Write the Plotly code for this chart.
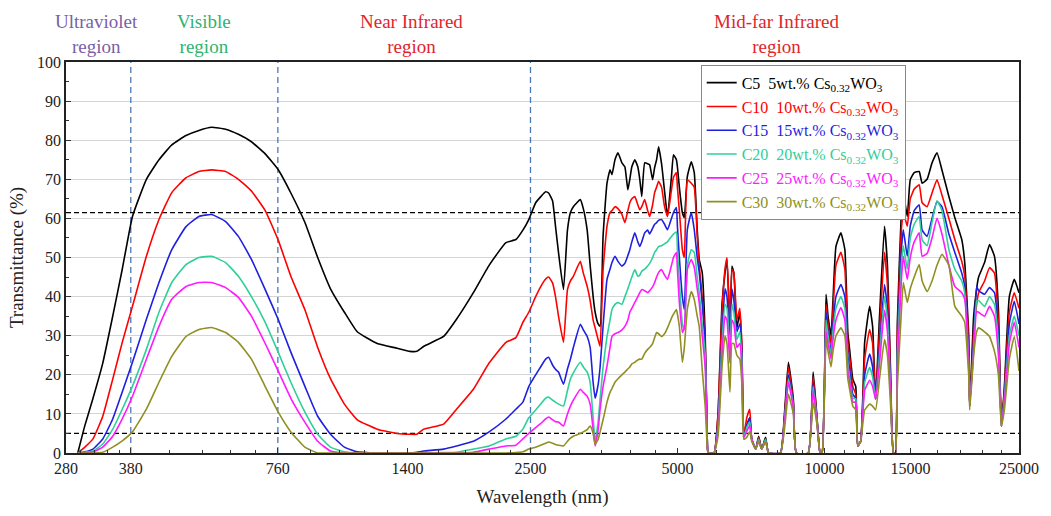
import numpy as np
import plotly.graph_objects as go

# Wavelength grid (nm) shared by every spectrum
wavelength_nm = [
    296, 306, 318, 333, 349, 365, 383, 409, 434, 461, 493, 524, 556, 594, 631, 671, 716, 761, 808, 863,
    917, 974, 1040, 1105, 1214, 1333, 1416, 1463, 1512, 1660, 1764, 1910, 2057, 2227, 2334, 2412, 2480, 2562,
    2622, 2685, 2723, 2774, 2813, 2853, 2921, 2976, 3018, 3060, 3162, 3207, 3266, 3312, 3359, 3391, 3439, 3471,
    3520, 3586, 3637, 3671, 3723, 3776, 3847, 3901, 3956, 3993, 4031, 4088, 4146, 4185, 4224, 4283, 4343, 4384,
    4446, 4488, 4530, 4573, 4637, 4703, 4769, 4859, 4905, 4973, 4997, 5043, 5115, 5163, 5236, 5334, 5410, 5486,
    5538, 5616, 5696, 5749, 5776,
    5940, 6052, 6166, 6253, 6312, 6401, 6461, 6521, 6613, 6706, 6769, 6833, 6929, 7027, 7093, 7227, 7329, 7433,
    7572, 7679, 8122, 8276, 8432, 8630, 8752, 9257, 9475, 9653, 9790, 9882, 10068, 10163, 10306, 10402, 10549,
    10798, 11002, 11157, 11262, 11421, 11582, 11691, 11856, 12079, 12364, 12539, 12716, 12955, 13261, 13448,
    13639, 13831, 13960, 14091, 14357, 14492, 14765, 14974, 15256, 15616, 15836, 16210, 16593, 16985, 17387,
    17964, 18475, 19089, 19358, 19723, 19816, 20190, 20474, 20666, 21254, 21757, 22270, 22689, 23010, 23335,
    23887, 24450, 25000,
]

# Transmittance (%) of each film
c5 = [
    0, 7, 14, 23, 35, 47, 60.5, 70, 75, 78.8, 81.2, 82.5, 83.3, 82.8, 81.5, 79.6, 76.5, 72.5, 66.5, 59,
    50, 42, 36, 31, 28, 26.8, 26, 26, 27.3, 29.8, 34.2, 41, 48, 53.8, 54.6, 57, 59.7, 64,
    65.5, 66.8, 66.5, 64.5, 58, 51.3, 41.8, 57, 61.5, 63, 64.8, 62.5, 57, 48, 40, 36, 33, 32.4,
    55.4, 69, 72.4, 71.2, 75, 76.8, 74.2, 73.2, 67.3, 70, 73.2, 75, 73.2, 70, 65.6, 74.2, 74, 73.7,
    69.9, 73, 75, 78.3, 74, 67, 60.5, 70.7, 76.3, 75, 73.2, 68, 61.5, 60.2, 70.7, 74.5, 71.7, 57.1,
    49.5, 46.2, 30, 5, 0,
    0, 10, 38, 46, 49.5, 32, 47.8, 46, 32, 36, 27, 4.3, 7, 9, 3.6, 1, 4.3, 1,
    4, 0, 0, 10, 23.2, 13.8, 0, 0, 20.7, 8.7, 0, 0, 40.6, 35, 30, 39, 52.8,
    56.3, 52, 30.8, 26, 18.9, 17, 1.8, 3, 28.3, 37.5, 32.4, 13.8, 35, 58, 47.8,
    22, 0, 0, 33.4, 61.5, 66.6, 60.5, 69.9, 71.7, 72, 69, 70, 74.2, 76.8, 72.4,
    65.6, 60.2, 54.6, 48.7, 30, 12, 35, 42, 45, 48.7, 53.3, 50.3, 36.7, 6.9, 17,
    40, 44.4, 41,
]
c10 = [
    0, 1.5, 3.6, 9.4, 18.9, 28.3, 37.5, 50.3, 59.7, 66.6, 70.4, 72, 72.4, 72, 70, 67, 62, 54.5, 45.2, 36.7,
    27, 19, 12.5, 8.5, 6.1, 5, 4.8, 4.8, 6.1, 7.4, 11.2, 16.3, 23, 28.3, 29.5, 33.4, 36, 40,
    42.5, 44.5, 45, 43.5, 40, 35, 28.3, 41.8, 44, 45.2, 49, 46, 42.6, 39, 34, 32, 29, 27.3,
    46.9, 58, 61.5, 62, 63, 62.5, 61, 58.9, 62, 64, 65, 65.6, 63.5, 62.2, 63, 64.8, 62, 60.5,
    63.5, 66.6, 68, 69.5, 68, 63, 60.5, 67.3, 70.5, 71.7, 68, 62, 52, 50, 69.9, 69, 68, 55.4,
    48, 40, 28, 5, 0,
    0, 10, 36, 47, 50, 33, 47, 46, 34, 37, 28, 4.3, 9, 11.2, 3.6, 1, 4, 1,
    3.5, 0, 0, 9, 22, 13, 0, 0, 19.5, 8.5, 0, 0, 38, 33, 28, 36, 48,
    51.3, 47, 28, 24, 17, 15, 1.8, 3, 24, 31.6, 28, 13.8, 31, 51.3, 43,
    20, 0, 0, 30, 57, 61.7, 58, 65, 67.5, 68.6, 64, 63, 66.5, 69.9, 66,
    60, 54.6, 49, 45.2, 28, 12, 31, 38, 41, 44, 47.4, 46, 33, 6.9, 16,
    36, 41, 37,
]
c15 = [
    0, 0.3, 1, 3.6, 8.7, 15.6, 23.2, 34.2, 43.6, 52, 57.9, 60.5, 61, 59.2, 55.4, 49.5, 41.8, 34.2, 25.8, 17.1,
    9.4, 4.8, 1.5, 0.3, 0, 0, 0, 0.2, 0.5, 1, 1.8, 3, 5.4, 8.7, 11.2, 13, 17, 20,
    22, 24, 24.5, 22.5, 21.4, 20.7, 17.6, 21.5, 24, 27, 32.9, 31.5, 29.8, 27, 18, 14, 17.5, 22,
    32.4, 44.4, 47, 48.7, 50.3, 49, 47.8, 48.5, 50.5, 52, 54, 56.3, 54, 52.8, 54, 56.3, 57, 56,
    57.5, 58.5, 58.9, 59.5, 59.7, 58.5, 57.1, 60, 61.5, 62.8, 58, 50, 40, 36.7, 57.1, 61.5, 57.1, 50,
    46.2, 38.5, 27, 5, 0,
    0, 8, 30, 42, 40, 28, 42, 39, 31, 33, 26, 4, 7, 9, 3.5, 1, 3.5, 1,
    3.5, 0, 0, 8.5, 20, 12.5, 0, 0, 18, 8, 0, 0, 36, 31, 26, 33, 40,
    43.1, 40, 25, 21, 15, 14, 1.8, 3, 20, 25.3, 22, 13.8, 27, 43.1, 37,
    18, 0, 0, 27, 52, 57.1, 50.3, 58, 62, 63.5, 57, 55.4, 60, 64.3, 63,
    56, 51.3, 46, 42.6, 25, 12, 29, 42.6, 41.5, 40.6, 42.3, 41, 30, 6.9, 15,
    33, 38.8, 33,
]
c20 = [
    0, 0.2, 0.5, 2.3, 6.1, 11.2, 17.1, 26.5, 36, 43.6, 48.2, 50, 50.3, 48.7, 45.2, 40, 33.4, 25.8, 18.1, 10.5,
    4.8, 1.5, 0.3, 0, 0, 0, 0, 0, 0, 0.1, 0.2, 1, 1.8, 3.6, 4.3, 6.1, 9, 11,
    12.5, 14, 14.3, 13.5, 13, 12.5, 12, 16, 18.9, 20.5, 23.2, 22, 20.7, 18, 9, 2.8, 8, 13.8,
    22, 29.8, 34, 36.7, 38, 38.5, 38, 40, 42, 43.5, 45, 46.9, 45.2, 45.5, 46.5, 47, 47.8, 48.5,
    50, 51.3, 52, 52.8, 53, 53.5, 54, 55.4, 56, 56.5, 52, 44, 33, 31.6, 48, 52, 51.3, 45,
    41, 33, 25, 4, 0,
    0, 7, 28, 38, 37, 26, 38, 36, 29, 31, 24, 4, 6.5, 8, 3.5, 1, 3.5, 1,
    3.5, 0, 0, 8, 19, 12, 0, 0, 17, 8, 0, 0, 34, 30, 25, 31, 37,
    40, 37, 23, 19, 14, 13.8, 1.8, 3, 18, 21.9, 19.5, 13.8, 25, 40, 34,
    17, 0, 0, 25, 48, 53, 47, 55, 58.5, 60.5, 54.5, 53, 59, 64.5, 62,
    52, 47, 44, 41, 23, 12, 27, 38.8, 39, 37.5, 40, 38, 28, 6.9, 14,
    30, 35, 30,
]
c25 = [
    0, 0, 0.3, 1.5, 4.3, 8.7, 14.5, 24, 32.4, 39.3, 42.6, 43.6, 43.6, 42.3, 39.8, 35, 28, 21, 14, 7.9,
    3, 0.5, 0, 0, 0, 0, 0, 0, 0, 0, 0, 0.2, 1, 1.8, 2, 3.6, 5, 6.5,
    7.5, 8.7, 9.2, 8.5, 8, 7.9, 6.9, 10, 12, 13.5, 16.3, 15.5, 14.5, 12.5, 6, 1.8, 6, 11.2,
    17, 22.2, 27, 29.8, 30.5, 30.8, 31.5, 32.4, 34, 36, 37, 38.5, 40, 41, 41.8, 41.5, 41, 41.5,
    42.5, 43.6, 45, 46.2, 46.9, 45.5, 44.4, 48, 50, 51.3, 47, 38.5, 30.8, 32, 46.9, 49.5, 47.5, 42,
    38.5, 30, 22, 4, 0,
    0, 6, 25, 35, 34, 23, 34, 33, 27, 28, 22, 4, 5.5, 7, 3.5, 1, 3, 1,
    3, 0, 0, 7.5, 18, 11.5, 0, 0, 16, 7.5, 0, 0, 31, 28, 24, 29, 34,
    37.2, 34, 21, 18, 13, 13, 1.8, 3, 16, 18.6, 17, 13.8, 23, 36.5, 31,
    16, 0, 0, 22, 44, 50.3, 44.4, 50, 54, 56.3, 50.3, 51, 55, 60, 56,
    48, 42.6, 41, 39.3, 22, 12, 26, 36.2, 36, 35, 37.5, 35, 25, 6.9, 13,
    28, 33.4, 27,
]
c30 = [
    0, 0, 0, 0.2, 1.5, 3.1, 5.4, 11.2, 18.1, 24.7, 29.8, 31.6, 32.1, 30.8, 28.3, 24, 17, 10.5, 5.4, 1.5,
    0, 0, 0, 0, 0, 0, 0, 0, 0, 0, 0, 0, 0, 0, 0.1, 0.3, 1, 1.5,
    2, 2.5, 2.8, 2.5, 2.2, 2, 1.8, 3, 3.8, 4.3, 5, 5.4, 6, 6.9, 5, 2.3, 3.5, 5.4,
    8.5, 13, 15.5, 16.5, 18.1, 19, 20, 20.7, 21.5, 22, 22.8, 23.2, 23.8, 24, 24, 25.5, 26.5, 27,
    28, 29.5, 30.8, 30.5, 29.8, 30.5, 32, 34.5, 35.5, 36.7, 35.5, 32.4, 23.2, 27, 36.7, 41.3, 39.3, 35,
    32.4, 21.4, 12, 2, 0,
    0, 4.3, 22, 30, 28, 15.6, 28, 28, 25, 24, 18, 3.5, 4, 5.5, 3, 1, 3, 1,
    3, 0, 0, 6, 15, 10, 0, 0, 13, 7, 0, 0, 29, 26, 22, 26, 30,
    32, 30, 19, 16, 12, 11, 1.8, 3, 11, 12.5, 12, 11, 19, 29, 25,
    13, 0, 0, 17, 36, 43.6, 38.5, 42, 45, 48.2, 44, 41.3, 44, 48, 50.8,
    48, 37.5, 35, 33.4, 20, 11, 25, 31, 32, 31, 29.8, 26, 20, 6.9, 11,
    24, 29.8, 21,
]

series = [
    ("C5", "5wt.%", c5, "#000000"),
    ("C10", "10wt.%", c10, "#ff0000"),
    ("C15", "15wt.%", c15, "#1f1fe0"),
    ("C20", "20wt.%", c20, "#2fcf9a"),
    ("C25", "25wt.%", c25, "#ff1aff"),
    ("C30", "30wt.%", c30, "#8f8f22"),
]

# Region boundaries and reference transmittance levels
region_bounds_nm = [380, 760, 2500]
reference_levels = [61.5, 5]

x_tick_vals = [280, 380, 760, 1400, 2500, 5000, 10000, 15000, 25000]
x_minor_vals = [300, 320, 340, 360, 456, 532, 608, 684, 888, 1016, 1144, 1272,
                1620, 1840, 2060, 2280, 3000, 3500, 4000, 4500, 6000, 7000, 8000, 9000,
                11000, 12000, 13000, 14000, 17000, 19000, 21000, 23000]

serif = "Liberation Serif"

fig = go.Figure()

for xb in region_bounds_nm:
    fig.add_trace(go.Scatter(
        x=[xb, xb], y=[0, 100], mode="lines", showlegend=False, hoverinfo="skip",
        line=dict(color="#4a78b8", width=1.3, dash="6px,4px"),
    ))
for lvl in reference_levels:
    fig.add_trace(go.Scatter(
        x=[280, 25000], y=[lvl, lvl], mode="lines", showlegend=False, hoverinfo="skip",
        line=dict(color="#000000", width=1.2, dash="5px,3px"),
    ))

for code, frac, vals, color in series:
    label = (f'<span style="color:{color}">{code}&nbsp;&nbsp;{frac} '
             f'Cs<sub>0.32</sub>WO<sub>3</sub></span>')
    fig.add_trace(go.Scatter(
        x=wavelength_nm, y=vals, mode="lines", name=label,
        line=dict(color=color, width=1.6, shape="spline", smoothing=0.4),
    ))

regions = [
    ("Ultraviolet<br>region", 324, "#7b5ea8"),
    ("Visible<br>region", 536, "#2fb36e"),
    ("Near Infrared<br>region", 1429, "#e0262b"),
    ("Mid-far Infrared<br>region", 7975, "#e0262b"),
]
for text, xc, color in regions:
    fig.add_annotation(
        x=np.log10(xc), y=1.0, xref="x", yref="paper", yanchor="bottom",
        text=text, showarrow=False, yshift=3,
        font=dict(family=serif, size=19, color=color),
    )

fig.update_layout(
    width=1051, height=516,
    margin=dict(l=66, r=23, t=62, b=62),
    paper_bgcolor="white", plot_bgcolor="white",
    font=dict(family=serif, size=16, color="#222222"),
    showlegend=True,
    legend=dict(
        x=0.666, y=0.993, xanchor="left", yanchor="top",
        bgcolor="white", bordercolor="#888888", borderwidth=1,
        font=dict(family=serif, size=16), tracegroupgap=0,
    ),
    xaxis=dict(
        type="log", range=[np.log10(280), np.log10(25000)],
        tickmode="array", tickvals=x_tick_vals, ticktext=[str(v) for v in x_tick_vals],
        ticks="inside", ticklen=5, tickwidth=1.2, tickcolor="#333333",
        showline=True, linecolor="#222222", linewidth=1.8, mirror=True,
        showgrid=False, zeroline=False,
        tickfont=dict(family=serif, size=16, color="#222222"),
        minor=dict(tickmode="array", tickvals=x_minor_vals, ticks="inside",
                   ticklen=3, tickcolor="#333333", showgrid=False),
        title=dict(text="Wavelength (nm)", font=dict(family=serif, size=19, color="#222222"),
                   standoff=14),
    ),
    yaxis=dict(
        range=[0, 100], tickmode="linear", tick0=0, dtick=10,
        ticks="inside", ticklen=5, tickwidth=1.2, tickcolor="#333333",
        showline=True, linecolor="#222222", linewidth=1.8, mirror=True,
        showgrid=True, gridcolor="#d4d4d4", gridwidth=1, zeroline=False,
        tickfont=dict(family=serif, size=16, color="#222222"),
        minor=dict(dtick=5, ticks="inside", ticklen=3, tickcolor="#333333", showgrid=False),
        title=dict(text="Transmittance (%)", font=dict(family=serif, size=19, color="#222222"),
                   standoff=8),
    ),
)

fig.write_html("out.html")
